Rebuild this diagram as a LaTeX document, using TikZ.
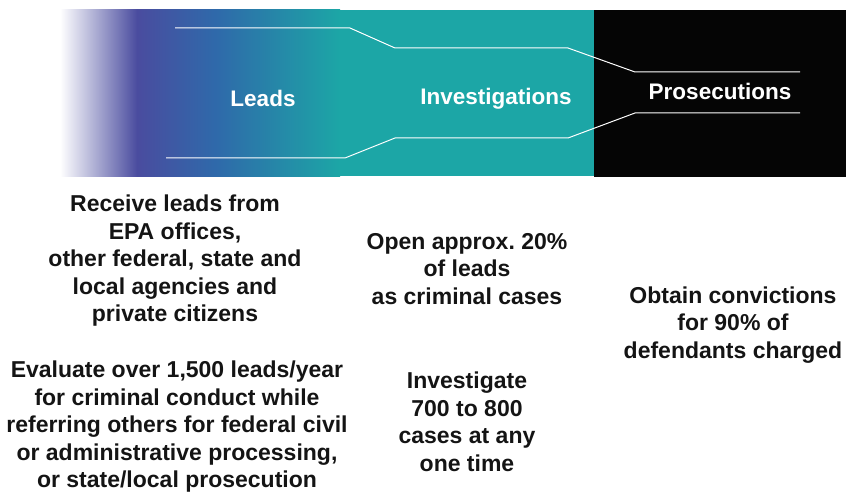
\documentclass[tikz,border=0pt]{standalone}
\usepackage{fontspec}
\setmainfont{Liberation Sans}
\usetikzlibrary{positioning}

\definecolor{leadpurple}{HTML}{4A4C9F}
\definecolor{leadblue}{HTML}{2F69AA}
\definecolor{invteal}{HTML}{1CA6A6}
\definecolor{prosblack}{HTML}{050505}

\begin{document}
\frenchspacing
\begin{tikzpicture}[x=1pt, y=-1pt,
    stage/.style={font=\bfseries\fontsize{22.5}{26}\selectfont, text=white},
    note/.style={align=center, text=black!92, font=\bfseries\fontsize{23}{27.5}\selectfont},
    funnel/.style={draw=white, line width=1pt}
]
\useasboundingbox (0,0) rectangle (846,492);

% Banner
\shade[left color=white, right color=leadpurple] (60,10) rectangle (137,176);
\shade[left color=leadpurple, right color=leadblue] (137,10) rectangle (215,176);
\shade[left color=leadblue, right color=invteal] (215,10) rectangle (340,176);
\fill[invteal] (340,10) rectangle (594,176);
\fill[prosblack] (594,10) rectangle (846,177);

% Funnel outline
\coordinate (t1) at (175,28);
\coordinate (t2) at (350,28);
\coordinate (t3) at (395,48);
\coordinate (t4) at (568,48);
\coordinate (t5) at (635,72);
\coordinate (t6) at (800,72);
\coordinate (b1) at (166,158);
\coordinate (b2) at (345,158);
\coordinate (b3) at (395,138);
\coordinate (b4) at (568,138);
\coordinate (b5) at (635,113);
\coordinate (b6) at (800,113);
\draw[funnel] (t1) -- (t2) -- (t3) -- (t4) -- (t5) -- (t6);
\draw[funnel] (b1) -- (b2) -- (b3) -- (b4) -- (b5) -- (b6);

% Stages
\node[stage] at (263,98) (leads) {Leads};
\node[stage] at (496,99) (investigations) {Investigations};
\node[stage] at (720,91) (prosecutions) {Prosecutions};

% Notes
\node[note] at (175,261) (receive) {Receive leads from\\EPA offices,\\other federal, state and\\local agencies and\\private citizens};
\node[note] at (177,427) (evaluate) {Evaluate over 1,500 leads/year\\for criminal conduct while\\referring others for federal civil\\or administrative processing,\\or state/local prosecution};
\node[note] at (467,269) (open) {Open approx.\ 20\%\\of leads\\as criminal cases};
\node[note] at (467,422) (investigate) {Investigate\\700 to 800\\cases at any\\one time};
\node[note] at (733,325) (obtain) {Obtain convictions\\for 90\% of\\defendants charged};

\end{tikzpicture}
\end{document}
